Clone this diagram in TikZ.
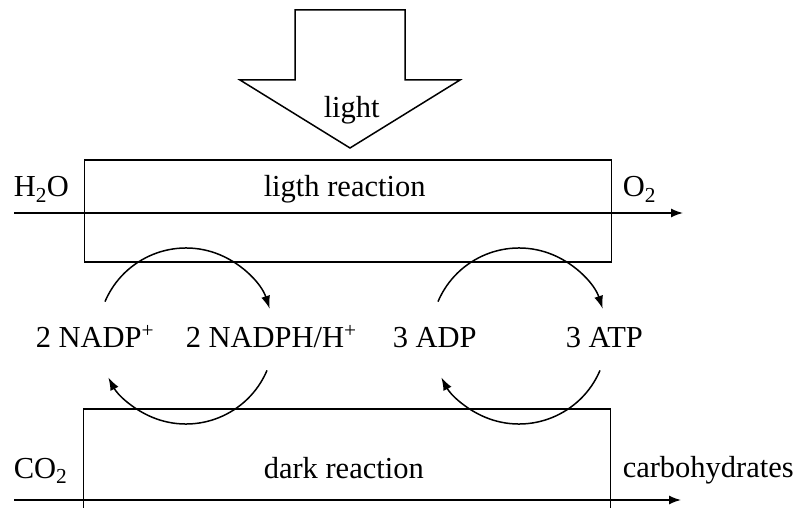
\documentclass[tikz,border=0pt]{standalone}
\usepackage{fontspec}
\setmainfont{Liberation Serif}
\usetikzlibrary{arrows.meta,calc}

\begin{document}
\begin{tikzpicture}[x=1pt, y=1pt, line width=1.5pt,
  every node/.style={font=\fontsize{30.5}{36}\selectfont, inner sep=0pt, anchor=base west},
  box/.style={draw, anchor=center, minimum width=527pt},
  flow/.style={-{Latex[length=12pt,width=9pt]}},
  cyc/.style={-{Latex[length=13pt,width=9pt]}}]
\useasboundingbox (0,0) rectangle (803,507);

% light
\coordinate (tip) at (350,359);
\draw (tip) -- ++(-110,68) -- ++(55,0) -- ++(0,70) -- ++(110,0) -- ++(0,-70) -- ++(55,0) -- cycle;
\node (light) at (323,389) {light};

\node (lr)[box, minimum height=102pt] at (348,296) {};
\node (dr)[box, minimum height=118pt] at (347,39) {};

\node (lrtext) at (263,310) {ligth reaction};
\node (drtext) at (263,29) {dark reaction};

\node (h2o) at (13,310) {H\textsubscript{2}O};
\node (o2) at (622,310) {O\textsubscript{2}};
\node (co2) at (13,29) {CO\textsubscript{2}};
\node (carb) at (622,30) {carbohydrates};

\coordinate (in1) at (14,294);
\coordinate (out1) at (683,294);
\coordinate (in2) at (14,7);
\coordinate (out2) at (681,7);
\draw[flow] (in1) -- (out1);
\draw[flow] (in2) -- (out2);

\node (nadp) at (35,160) {2 NADP\textsuperscript{+}};
\node (nadph) at (185,160) {2 NADPH/H\textsuperscript{+}};
\node (adp) at (392,160) {3 ADP};
\node (atp) at (565,160) {3 ATP};

\coordinate (c1) at (186,171);
\coordinate (c2) at (519,171);
\foreach \c in {c1,c2}{
  \draw[cyc] ($(\c)+(157:88)$) arc[start angle=157, end angle=18, radius=88];
  \draw[cyc] ($(\c)+(-23:88)$) arc[start angle=-23, end angle=-152, radius=88];
}
\end{tikzpicture}
\end{document}
